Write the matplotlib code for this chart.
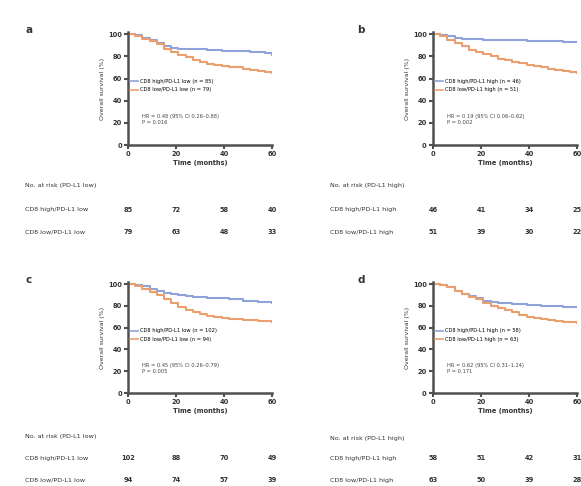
import matplotlib
matplotlib.use("Agg")
import matplotlib.pyplot as plt
from matplotlib.transforms import blended_transform_factory
from matplotlib.lines import Line2D

W, H = 581, 486
fig = plt.figure(figsize=(W / 100, H / 100), dpi=100)

BLUE = "#8fa3db"
ORANGE = "#eb9f6e"

months = [0, 3, 6, 9, 12, 15, 18, 21, 24, 27, 30, 33, 36, 39, 42, 45, 48, 51, 54, 57, 60]

panels = {
    "a": dict(
        blue=[1.0, 0.99, 0.97, 0.95, 0.92, 0.89, 0.88, 0.87, 0.87, 0.87, 0.87, 0.86, 0.86, 0.85, 0.85, 0.85, 0.85, 0.84, 0.84, 0.83, 0.81],
        orange=[1.0, 0.98, 0.96, 0.94, 0.91, 0.87, 0.84, 0.81, 0.79, 0.77, 0.75, 0.73, 0.72, 0.71, 0.70, 0.70, 0.69, 0.68, 0.67, 0.66, 0.65],
        leg=["CD8 high/PD-L1 low (n = 85)", "CD8 low/PD-L1 low (n = 79)"],
        stat=["HR = 0.48 (95% CI 0.26–0.88)", "P = 0.016"],
        risk_title="No. at risk (PD-L1 low)",
        rows=["CD8 high/PD-L1 low", "CD8 low/PD-L1 low"],
        risk=[[85, 72, 58, 40], [79, 63, 48, 33]],
    ),
    "b": dict(
        blue=[1.0, 0.99, 0.98, 0.97, 0.96, 0.96, 0.96, 0.95, 0.95, 0.95, 0.95, 0.95, 0.95, 0.94, 0.94, 0.94, 0.94, 0.94, 0.93, 0.93, 0.93],
        orange=[1.0, 0.98, 0.95, 0.92, 0.89, 0.86, 0.84, 0.82, 0.80, 0.78, 0.77, 0.75, 0.74, 0.72, 0.71, 0.70, 0.69, 0.68, 0.67, 0.66, 0.65],
        leg=["CD8 high/PD-L1 high (n = 46)", "CD8 low/PD-L1 high (n = 51)"],
        stat=["HR = 0.19 (95% CI 0.06–0.62)", "P = 0.002"],
        risk_title="No. at risk (PD-L1 high)",
        rows=["CD8 high/PD-L1 high", "CD8 low/PD-L1 high"],
        risk=[[46, 41, 34, 25], [51, 39, 30, 22]],
    ),
    "c": dict(
        blue=[1.0, 0.99, 0.98, 0.96, 0.94, 0.92, 0.91, 0.90, 0.89, 0.88, 0.88, 0.87, 0.87, 0.87, 0.86, 0.86, 0.85, 0.85, 0.84, 0.84, 0.83],
        orange=[1.0, 0.98, 0.96, 0.93, 0.90, 0.86, 0.83, 0.79, 0.76, 0.74, 0.73, 0.71, 0.70, 0.69, 0.68, 0.68, 0.67, 0.67, 0.66, 0.66, 0.65],
        leg=["CD8 high/PD-L1 low (n = 102)", "CD8 low/PD-L1 low (n = 94)"],
        stat=["HR = 0.45 (95% CI 0.26–0.79)", "P = 0.005"],
        risk_title="No. at risk (PD-L1 low)",
        rows=["CD8 high/PD-L1 low", "CD8 low/PD-L1 low"],
        risk=[[102, 88, 70, 49], [94, 74, 57, 39]],
    ),
    "d": dict(
        blue=[1.0, 0.99, 0.97, 0.94, 0.91, 0.89, 0.87, 0.85, 0.84, 0.83, 0.83, 0.82, 0.82, 0.81, 0.81, 0.80, 0.80, 0.80, 0.79, 0.79, 0.79],
        orange=[1.0, 0.99, 0.97, 0.94, 0.91, 0.88, 0.86, 0.83, 0.80, 0.78, 0.76, 0.74, 0.72, 0.70, 0.69, 0.68, 0.67, 0.66, 0.65, 0.65, 0.64],
        leg=["CD8 high/PD-L1 high (n = 58)", "CD8 low/PD-L1 high (n = 63)"],
        stat=["HR = 0.62 (95% CI 0.31–1.24)", "P = 0.171"],
        risk_title="No. at risk (PD-L1 high)",
        rows=["CD8 high/PD-L1 high", "CD8 low/PD-L1 high"],
        risk=[[58, 51, 42, 31], [63, 50, 39, 28]],
    ),
}

xticks = [0, 20, 40, 60]
yticks = [0, 20, 40, 60, 80, 100]

# pixel layout: (axes left, axes right, axes top, axes bottom, label x, label y, table x, table header y, row ys)
layout = {
    "a": (128, 272, 32, 145, 25, 30, 25, 186, (210, 232)),
    "b": (433, 577, 32, 145, 357, 30, 330, 186, (210, 232)),
    "c": (128, 272, 282, 393, 25, 280, 25, 436, (458, 480)),
    "d": (433, 577, 282, 393, 357, 280, 330, 438, (458, 480)),
}

DARK = "#505050"
TXT = "#333333"
for key, p in panels.items():
    l, r, t, b, lx, ly, tx, hy, rys = layout[key]
    ax = fig.add_axes([l / W, 1 - b / H, (r - l) / W, (b - t) / H])
    ax.step(months, [v * 100 for v in p["blue"]], where="post", color=BLUE, lw=1.5)
    ax.step(months, [v * 100 for v in p["orange"]], where="post", color=ORANGE, lw=1.5)
    ax.set_xlim(0, 60)
    ax.set_ylim(0, 102)
    ax.set_xticks(xticks)
    ax.set_yticks(yticks)
    ax.tick_params(labelsize=4.8, width=1.5, length=3, color=DARK, labelcolor=TXT, pad=1.5)
    for lab in ax.get_xticklabels() + ax.get_yticklabels():
        lab.set_fontweight("bold")
    for s in ["top", "right"]:
        ax.spines[s].set_visible(False)
    for s in ["left", "bottom"]:
        ax.spines[s].set_linewidth(1.8)
        ax.spines[s].set_color(DARK)
    ax.set_xlabel("Time (months)", fontsize=4.8, labelpad=2, color=TXT, fontweight="bold")
    ax.set_ylabel("Overall survival (%)", fontsize=4.5, labelpad=2, color=TXT)
    handles = [Line2D([], [], color=BLUE, lw=1.2), Line2D([], [], color=ORANGE, lw=1.2)]
    ax.legend(handles, p["leg"], loc="upper left", bbox_to_anchor=(0.0, 0.60),
              fontsize=3.7, frameon=False, handlelength=1.5, borderaxespad=0,
              handletextpad=0.5, labelspacing=0.6)
    ax.text(0.1, 0.27, "\n".join(p["stat"]), transform=ax.transAxes, fontsize=3.7,
            va="top", ha="left", color="#444444", linespacing=1.2)
    fig.text(lx / W, 1 - ly / H, key, fontsize=7.5, fontweight="bold", va="center", ha="left", color=TXT)
    # number at risk
    fig.text(tx / W, 1 - hy / H, p["risk_title"], fontsize=4.6, va="center", ha="left", color=TXT)
    tr = blended_transform_factory(ax.transData, fig.transFigure)
    for row_label, vals, ry in zip(p["rows"], p["risk"], rys):
        fig.text(tx / W, 1 - ry / H, row_label, fontsize=4.6, va="center", ha="left", color=TXT)
        for xv, v in zip(xticks, vals):
            fig.text(xv, 1 - ry / H, str(v), transform=tr, fontsize=4.8, va="center",
                     ha="center", color=TXT, fontweight="bold")

fig.savefig("out.png", dpi=100)
